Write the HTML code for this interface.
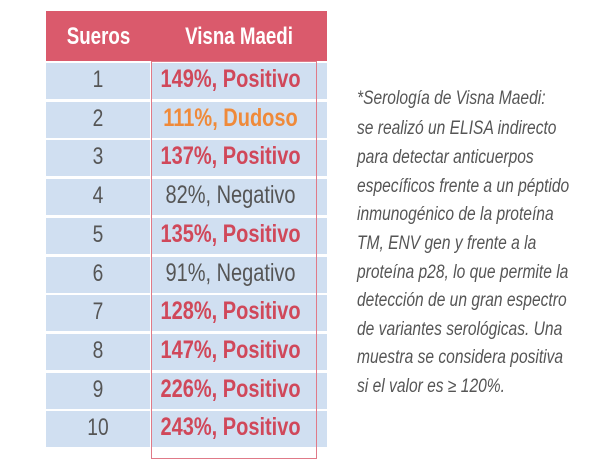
<!DOCTYPE html>
<html><head><meta charset="utf-8"><style>
body{margin:0;width:600px;height:472px;background:#fff;position:relative;overflow:hidden;font-family:"Liberation Sans",Arial,sans-serif}
.hdr{position:absolute;left:46px;top:11px;width:281px;height:50px;background:#da5a6c}
.cell{position:absolute;background:#d0dff1;height:36px}
.t{position:absolute;white-space:nowrap;transform-origin:center;text-align:center}
.note{position:absolute;left:357px;font-style:italic;font-size:19px;color:#555;white-space:nowrap;transform:scaleX(0.82);transform-origin:left center}
</style></head><body>
<div class="hdr">
 <div class="t" style="left:0;width:105px;top:12px;font-size:24px;font-weight:bold;color:#fff;transform:scaleX(0.78)">Sueros</div>
 <div class="t" style="left:105px;width:176px;top:12px;font-size:24px;font-weight:bold;color:#fff;transform:scaleX(0.78)">Visna Maedi</div>
</div>
<div id="rows"></div>
<div style="position:absolute;left:151px;top:61px;width:166px;height:398px;border:1px solid #e07a88;box-sizing:border-box"></div>
<div>
<div class="note" style="top:88px">*Serología de Visna Maedi:</div>
<div class="note" style="top:118px">se realizó un ELISA indirecto</div>
<div class="note" style="top:147px">para detectar anticuerpos</div>
<div class="note" style="top:176px">específicos frente a un péptido</div>
<div class="note" style="top:204px">inmunogénico de la proteína</div>
<div class="note" style="top:233px">TM, ENV gen y frente a la</div>
<div class="note" style="top:262px">proteína p28, lo que permite la</div>
<div class="note" style="top:290px">detección de un gran espectro</div>
<div class="note" style="top:319px">de variantes serológicas. Una</div>
<div class="note" style="top:347px">muestra se considera positiva</div>
<div class="note" style="top:376px">si el valor es ≥ 120%.</div>
</div>
<script>
const sueros=["1","2","3","4","5","6","7","8","9","10"];
const values=["149%, Positivo","111%, Dudoso","137%, Positivo","82%, Negativo","135%, Positivo","91%, Negativo","128%, Positivo","147%, Positivo","226%, Positivo","243%, Positivo"];
const status=["pos","dud","pos","neg","pos","neg","pos","pos","pos","pos"];
const root=document.getElementById('rows');
const colors={pos:"#d0485a",dud:"#ef8a3a",neg:"#555"};
for(let i=0;i<sueros.length;i++){
 const top=63+i*38.7;
 const a=document.createElement('div');a.className='cell';
 
 
 a.style.cssText=`left:46px;top:${top}px;width:104px`;
 a.innerHTML=`<div class="t" style="left:0;width:104px;top:3px;font-size:24px;color:#555;transform:scaleX(0.8)">${sueros[i]}</div>`;
 root.appendChild(a);
 const b=document.createElement('div');b.className='cell';
 
 
 b.style.cssText=`left:152px;top:${top}px;width:175px`;
 const bold=status[i]==='neg'?'normal':'bold';
 b.innerHTML=`<div class="t" style="left:-9px;width:175px;top:2px;font-size:25px;font-weight:${bold};color:${colors[status[i]]};transform:scaleX(0.8)">${values[i]}</div>`;
 root.appendChild(b);
}
</script>
</body></html>
